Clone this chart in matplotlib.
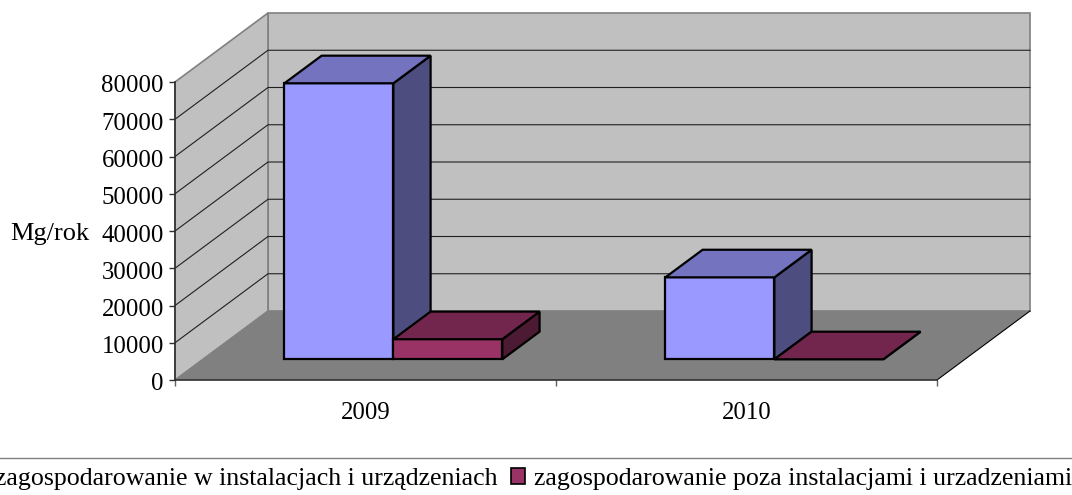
import matplotlib.pyplot as plt
from matplotlib.patches import Polygon, Patch
from matplotlib.transforms import ScaledTranslation

years = ["2009", "2010"]
inside = [74100, 22000]
outside = [5400, 0]
y_ticks = [0, 10000, 20000, 30000, 40000, 50000, 60000, 70000, 80000]
inside_name = "zagospodarowanie w instalacjach i urządzeniach"
outside_name = "zagospodarowanie poza instalacjami i urzadzeniami"

W, H = 1072, 495
# how far the back of the box is shifted, in data units
DEPTH_X = 93 / 381
DEPTH_Y = 69 / 298 * 80000
BAR_W = 0.286
D0, D1 = 0.3, 0.7

plt.rcParams["font.family"] = ["Liberation Serif", "DejaVu Serif"]
plt.rcParams["font.size"] = 17.8


def pt(x, y, d):
    return (x + d * DEPTH_X, y + d * DEPTH_Y)


def face(ax, points, color, z, lw=1.6, edge="black"):
    ax.add_patch(Polygon(points, closed=True, facecolor=color, edgecolor=edge,
                         linewidth=lw, joinstyle="miter", clip_on=False, zorder=z))


def box(ax, x, value, front, top, side, z):
    x1 = x + BAR_W
    base = 0
    face(ax, [pt(x, base, D0), pt(x1, base, D0), pt(x1, value, D0), pt(x, value, D0)], front, z)
    face(ax, [pt(x1, base, D0), pt(x1, base, D1), pt(x1, value, D1), pt(x1, value, D0)], side, z)
    face(ax, [pt(x, value, D0), pt(x1, value, D0), pt(x1, value, D1), pt(x, value, D1)], top, z)


fig = plt.figure(figsize=(W / 100, H / 100), dpi=100)
ax = fig.add_axes([175 / W, 1 - 380 / H, 762 / W, 298 / H])
ax.set_xlim(0, len(years))
ax.set_ylim(0, 80000)
ax.patch.set_visible(False)

top_val = y_ticks[-1]
n = len(years)
# walls and floor
face(ax, [pt(0, 0, 1), pt(n, 0, 1), pt(n, top_val, 1), pt(0, top_val, 1)], "#c0c0c0", 1, 1.2, "#808080")
face(ax, [pt(0, 0, 0), pt(0, 0, 1), pt(0, top_val, 1), pt(0, top_val, 0)], "#c0c0c0", 1, 1.2, "#808080")
face(ax, [pt(0, 0, 0), pt(n, 0, 0), pt(n, 0, 1), pt(0, 0, 1)], "#808080", 2, 0)
ax.plot(*zip(pt(n, 0, 0), pt(n, 0, 1)), color="black", lw=0.8, clip_on=False, zorder=3)

for v in y_ticks[1:-1]:
    a, b, c = pt(0, v, 0), pt(0, v, 1), pt(n, v, 1)
    ax.plot([a[0], b[0], c[0]], [a[1], b[1], c[1]], color="#202020", lw=0.8,
            clip_on=False, zorder=3)

for i in range(n):
    start = i + 0.5 - BAR_W
    box(ax, start, inside[i], "#9999ff", "#7373bf", "#4d4d80", 4 + i)
    box(ax, start + BAR_W, outside[i], "#993366", "#73264d", "#4d1a33", 4 + i)

for name in ["top", "right"]:
    ax.spines[name].set_visible(False)
for name in ["left", "bottom"]:
    ax.spines[name].set_color("#303030")
    ax.spines[name].set_linewidth(1.2)
    ax.spines[name].set_zorder(10)

ax.set_yticks(y_ticks)
ax.set_xticks(range(n + 1))
ax.set_xticklabels([])
ax.set_xticks([i + 0.5 for i in range(n)], labels=years, minor=True)
ax.tick_params(axis="x", which="minor", length=0, pad=16)
ax.tick_params(axis="x", which="major", length=4, color="#606060", width=1)
ax.tick_params(axis="y", length=4, color="#303030", width=1, pad=4)

# the y labels sit a little lower than the ticks in the original
nudge = ScaledTranslation(0, -2 / 100, fig.dpi_scale_trans)
for label in ax.get_yticklabels():
    label.set_transform(label.get_transform() + nudge)

ax.set_ylabel("Mg/rok", rotation=0, ha="center", va="center", fontsize=19)
ax.yaxis.set_label_coords(-125 / 762, (380 - 234) / 298)

# rule above the legend
fig.add_artist(plt.Line2D([0, 1], [1 - 457.5 / H] * 2, color="#808080", lw=1))

handles = [Patch(facecolor="#9999ff", edgecolor="black", linewidth=1.2, label=inside_name),
           Patch(facecolor="#993366", edgecolor="black", linewidth=1.2, label=outside_name)]
fig.legend(handles=handles, ncol=2, frameon=False, loc="center",
           bbox_to_anchor=(522 / W, 1 - 479 / H), handlelength=0.55, handleheight=0.55,
           handletextpad=0.35, columnspacing=0.5, borderpad=0, fontsize=18.6)

fig.savefig("out.png", dpi=100)
